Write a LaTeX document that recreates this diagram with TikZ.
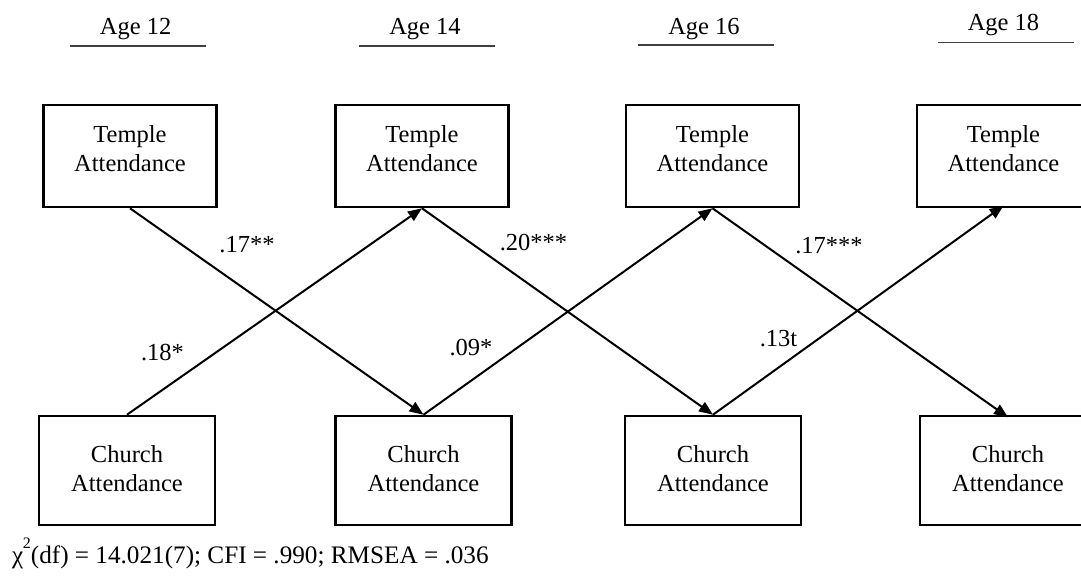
\documentclass[tikz,border=0pt]{standalone}
\usepackage{fontspec}
\setmainfont{Liberation Serif}
\usetikzlibrary{arrows.meta}

\begin{document}
\begin{tikzpicture}[x=1pt, y=-1pt,
  every node/.style={font=\fontsize{24.5}{29}\selectfont, inner sep=0pt},
  tbox/.style={draw, line width=2.6pt, minimum width=173pt, minimum height=102pt,
               align=center, text depth=15.7pt},
  cbox/.style={draw, line width=2.6pt, minimum width=176pt, minimum height=109pt,
               align=center, text depth=4.6pt},
  openbox/.style={draw=none, outer sep=0pt},
  boxline/.style={line width=2.6pt, line join=miter},
  link/.style={line width=2pt, -{Triangle[length=14pt,width=11pt]}},
  agerule/.style={line width=1.4pt, draw=black!75},
  agelabel/.style={anchor=base},
  coef/.style={}
]
% page frame; the right-hand boxes are cut off by it
\clip (0,0) rectangle (1081,577);

% wave headings
\node[agelabel] (h12) at (135.6,34.4) {Age 12};
\node[agelabel] (h14) at (425,34.4) {Age 14};
\node[agelabel] (h16) at (704,34.4) {Age 16};
\node[agelabel] (h18) at (1003.5,31) {Age 18};
\draw[agerule] (70,46) -- (206,46);
\draw[agerule] (359,46) -- (495,46);
\draw[agerule] (638,45) -- (774,45);
\draw[agerule] (938,42.5) -- (1074,42.5);

% temple attendance at each wave
\node[tbox] (t1) at (130,156) {Temple\\Attendance};
\node[tbox] (t2) at (422,156) {Temple\\Attendance};
\node[tbox] (t3) at (712.5,156) {Temple\\Attendance};
\node[tbox, openbox] (t4) at (1003.5,156) {Temple\\Attendance};
\draw[boxline] ([xshift=80pt]t4.north east) -- (t4.north west)
  -- (t4.south west) -- ([xshift=80pt]t4.south east);

% church attendance at each wave
\node[cbox] (c1) at (127,470.5) {Church\\Attendance};
\node[cbox] (c2) at (423.5,470.5) {Church\\Attendance};
\node[cbox] (c3) at (713,470.5) {Church\\Attendance};
\node[cbox, openbox] (c4) at (1008,470.5) {Church\\Attendance};
\draw[boxline] ([xshift=80pt]c4.north east) -- (c4.north west)
  -- (c4.south west) -- ([xshift=80pt]c4.south east);

% cross-lagged paths
\draw[link] (t1.south) -- (c2.north);
\draw[link] (c1.north) -- (t2.south);
\draw[link] (t2.south) -- (c3.north);
\draw[link] (c2.north) -- (t3.south);
\draw[link] (t3.south) -- ([yshift=-1.3pt]c4.north);
\draw[link] (c3.north) -- ([yshift=1.3pt]t4.south);

% path coefficients
\node[coef] (k1) at (247,245) {.17**};
\node[coef] (k2) at (162.5,353) {.18*};
\node[coef] (k3) at (533.5,243) {.20***};
\node[coef] (k4) at (471,348) {.09*};
\node[coef] (k5) at (829,246) {.17***};
\node[coef] (k6) at (778.5,339) {.13t};

% model fit
\node[anchor=base west, font=\fontsize{25.2}{29}\selectfont] (fit) at (12,563.7)
  {χ\kern-0.5pt\raisebox{0.6em}{\fontsize{16}{16}\selectfont 2}(df) = 14.021(7); CFI = .990; RMSEA = .036};
\end{tikzpicture}
\end{document}
